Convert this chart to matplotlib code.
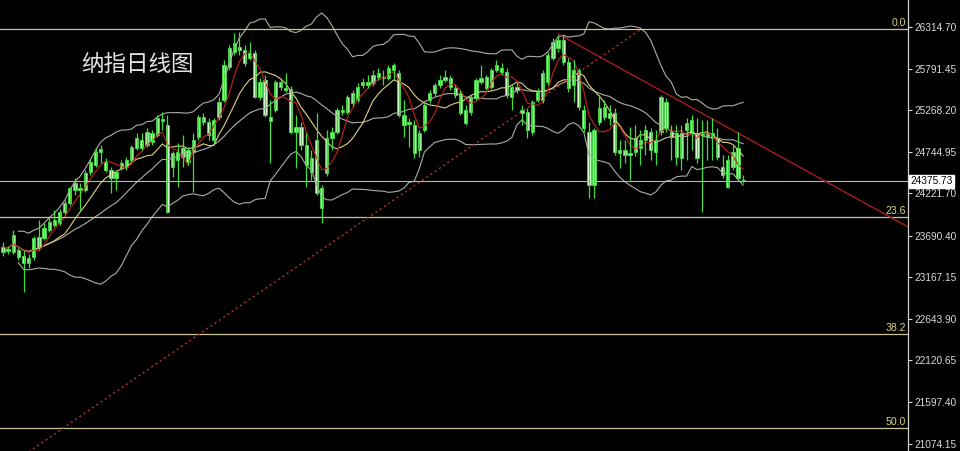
import numpy as np
import pandas as pd
import matplotlib
matplotlib.use("Agg")
import matplotlib.pyplot as plt
from matplotlib.transforms import blended_transform_factory

# daily candles (price), oldest first
opens = [23484, 23497, 23484, 23510, 23434, 23346, 23421, 23547, 23660, 23761,
         23824, 23849, 23989, 24101, 24264, 24264, 24264, 24490, 24579, 24742,
         24616, 24515, 24415, 24541, 24553, 24641, 24792, 24893, 24830, 24981,
         24956, 25132, 25082, 24553, 24641, 24679, 24767, 24742, 24931, 25119,
         25119, 24893, 25182, 25396, 25811, 26000, 26063, 26025, 25924, 25987,
         25434, 25648, 25182, 25270, 25560, 25547, 25535, 24994, 25057, 24830,
         24490, 24893, 24038, 24478, 24918, 24994, 25245, 25245, 25358, 25396,
         25585, 25585, 25610, 25686, 25686, 25673, 25774, 25736, 25082, 25119,
         25082, 24767, 25019, 25396, 25484, 25585, 25648, 25673, 25547, 25484,
         25270, 25245, 25421, 25623, 25686, 25560, 25774, 25748, 25748, 25434,
         25560, 25270, 25245, 24994, 25396, 25396, 25623, 25924, 26050, 26151,
         25874, 25585, 25774, 25270, 24994, 24327, 25119, 25182, 25233, 25233,
         24730, 24704, 24730, 24742, 24792, 24893, 24994, 24742, 24994, 25371,
         24994, 24981, 24667, 25019, 24981, 24981, 24956, 24931, 24918, 24918,
         24553, 24302, 24553, 24792, 24390]
highs = [23610, 23560, 23761, 23535, 23510, 23459, 23686, 23887, 23849, 23925,
         24013, 24025, 24138, 24302, 24415, 24352, 24515, 24667, 24792, 24830,
         24667, 24553, 24515, 24641, 24679, 24830, 24981, 24981, 25044, 25019,
         25207, 25245, 25207, 24755, 24855, 24956, 24805, 24981, 25207, 25233,
         25170, 25170, 25434, 25899, 26088, 26239, 26252, 26088, 26126, 26025,
         25673, 25711, 25396, 25648, 25673, 25736, 25572, 25207, 25119, 24981,
         24767, 25233, 24327, 25019, 25057, 25296, 25333, 25459, 25522, 25610,
         25673, 25711, 25774, 25799, 25774, 25836, 25862, 25774, 25396, 25170,
         25145, 25019, 25358, 25522, 25610, 25711, 25774, 25711, 25585, 25522,
         25333, 25459, 25673, 25836, 25711, 25799, 25899, 25862, 25799, 25585,
         25623, 25333, 25296, 25396, 25547, 25774, 26000, 26176, 26214, 26214,
         25924, 25899, 25799, 25333, 25119, 25044, 25459, 25396, 25333, 25296,
         24893, 24893, 25057, 25082, 25019, 25082, 25044, 25019, 25459, 25421,
         25082, 25082, 25082, 25170, 25207, 25170, 25145, 25145, 25170, 25044,
         24704, 24704, 24830, 24994, 24453]
lows = [23434, 23459, 23459, 23384, 22981, 23283, 23384, 23510, 23635, 23736,
        23799, 23824, 23962, 24075, 24201, 24013, 24239, 24453, 24553, 24604,
        24490, 24226, 24264, 24515, 24515, 24616, 24767, 24767, 24805, 24830,
        24931, 25019, 23975, 24428, 24302, 24553, 24579, 24239, 24893, 25082,
        24893, 24855, 25145, 25371, 25774, 25962, 25962, 25824, 25899, 25421,
        25396, 25182, 24604, 25245, 25522, 25497, 24969, 24541, 24767, 24302,
        24390, 24201, 23849, 24440, 24767, 24969, 25207, 25220, 25321, 25371,
        25547, 25547, 25572, 25648, 25585, 25648, 25648, 25182, 24931, 24805,
        24667, 24679, 24994, 25358, 25446, 25547, 25623, 25522, 25421, 25207,
        25082, 25207, 25396, 25597, 25522, 25535, 25748, 25711, 25421, 25270,
        25484, 25082, 24918, 24956, 25371, 25358, 25585, 25899, 26000, 25836,
        25497, 25371, 25270, 24994, 24164, 24164, 25082, 25145, 25082, 24704,
        24541, 24604, 24390, 24692, 24579, 24704, 24641, 24579, 24956, 24994,
        24641, 24579, 24515, 24641, 24767, 24604, 23989, 24641, 24641, 24641,
        24415, 24289, 24515, 24390, 24352]
closes = [23547, 23522, 23698, 23421, 23346, 23409, 23660, 23673, 23786, 23862,
          23887, 23989, 24101, 24289, 24352, 24289, 24478, 24616, 24742, 24780,
          24515, 24415, 24490, 24604, 24641, 24805, 24918, 24792, 24994, 24868,
          25170, 25157, 23989, 24730, 24742, 24792, 24616, 24893, 25182, 25182,
          24956, 25145, 25371, 25836, 26050, 26113, 26025, 25862, 25987, 25434,
          25623, 25207, 25132, 25623, 25623, 25522, 24994, 25057, 24830, 24579,
          24667, 24226, 24289, 24918, 24994, 25270, 25270, 25434, 25484, 25560,
          25623, 25623, 25711, 25736, 25673, 25799, 25836, 25207, 25207, 25094,
          24730, 24981, 25333, 25484, 25585, 25648, 25686, 25560, 25459, 25233,
          25107, 25421, 25648, 25673, 25547, 25774, 25836, 25799, 25459, 25560,
          25522, 25233, 25019, 25371, 25497, 25736, 25962, 26126, 26151, 25874,
          25547, 25774, 25308, 25044, 24327, 25019, 25296, 25308, 25170, 24742,
          24767, 24767, 24704, 24918, 24893, 25019, 24767, 24893, 25434, 25044,
          24931, 24679, 24981, 25107, 25145, 24667, 24981, 24981, 24981, 24679,
          24453, 24641, 24742, 24415, 24376]

last_price = 24375.73
axis_ticks = [26314.70, 25791.45, 25268.20, 24744.95, 24221.70, 23690.40,
              23167.15, 22643.90, 22120.65, 21597.40, 21074.15]
fib_high = 26290
fib_low = 16250
fib_ratios = [0.0, 23.6, 38.2, 50.0]
trend_x, trend_y = [108, 176], [26227, 23803]          # falling trend line
support_x, support_y = [5, 124], [20970, 26280]        # dotted rising line
title = "纳指日线图"

BG = "black"
LABEL_FONT = ["Liberation Sans", "DejaVu Sans"]
fig = plt.figure(figsize=(9.6, 4.51), dpi=100, facecolor=BG)
ax = fig.add_axes([0, 0, 908 / 960, 1])
ax.set_facecolor(BG)

n = len(closes)
x = np.arange(n)
o = np.array(opens, float)
c = np.array(closes, float)
h = np.maximum(np.array(highs, float), np.maximum(o, c))
l = np.minimum(np.array(lows, float), np.minimum(o, c))

# indicators: MA5, MA10, Bollinger(20, 2)
s = pd.Series(c)
ma5 = s.rolling(5, min_periods=1).mean()
ma10 = s.rolling(10, min_periods=1).mean()
mid = s.rolling(20, min_periods=4).mean()
sd = s.rolling(20, min_periods=4).std(ddof=0)
ax.plot(x, mid + 2 * sd, color="#a9b0a4", lw=0.8)
ax.plot(x, mid - 2 * sd, color="#a9b0a4", lw=0.8)
ax.plot(x, mid, color="#a9b0a4", lw=0.8)
ax.plot(x, ma10, color="#e0cf80", lw=0.8)
ax.plot(x, ma5, color="#b0201c", lw=0.9)

# fibonacci levels
blend = blended_transform_factory(ax.transAxes, ax.transData)
for r in fib_ratios:
    lvl = fib_high - r / 100 * (fib_high - fib_low)
    ax.axhline(lvl, color="#c9c49a", lw=0.9)
    ax.text(0.998, lvl + 15, f"{r:.1f}", color="#d6d27c", fontsize=7.6,
            ha="right", va="bottom", transform=blend, family=LABEL_FONT)

ax.axhline(last_price, color="#b8b8b8", lw=0.8)

# trend lines
slope = (trend_y[1] - trend_y[0]) / (trend_x[1] - trend_x[0])
ax.plot([trend_x[0], trend_x[1] + 5], [trend_y[0], trend_y[1] + 5 * slope],
        color="#a81c1c", lw=1.0)
ax.plot(support_x, support_y, color="#b83434", lw=1.0, ls=(0, (1.5, 2.2)))

# candles
up = c >= o
ax.vlines(x, l, h, color="#42dc42", lw=0.9)
body = np.maximum(np.abs(c - o), 14)
ax.bar(x[up], body[up], bottom=np.minimum(o, c)[up], width=0.64,
       color="#a6f2a0", edgecolor="#42dc42", lw=0.6)
ax.bar(x[~up], body[~up], bottom=np.minimum(o, c)[~up], width=0.64,
       color="#e2ffdc", edgecolor="#42dc42", lw=0.6)

ax.set_xlim(-0.58, 176.07)
ax.set_ylim(20981.6, 26654.3)

for sp in ["top", "left", "bottom"]:
    ax.spines[sp].set_visible(False)
ax.spines["right"].set_color("#d0d0d0")
ax.spines["right"].set_linewidth(0.9)
ax.set_xticks([])
ax.yaxis.tick_right()
ax.set_yticks(axis_ticks)
ax.set_yticklabels([f"{v:.2f}" for v in axis_ticks], family=LABEL_FONT)
ax.tick_params(axis="y", colors="#d8d8d8", labelsize=7.3, length=3, width=0.8, pad=1.5)

ax.text(1.0 + 2 / 908, last_price, f"{last_price:.2f}", color="black", fontsize=7.3,
        va="center", ha="left", transform=blend, family=LABEL_FONT,
        bbox=dict(facecolor="white", edgecolor="white", pad=1.0), clip_on=False)

fig.text(0.143, 0.856, title, color="#e4e4e4", fontsize=16.2, ha="center", va="center",
         family=["Noto Sans CJK SC", "DejaVu Sans"])

fig.savefig("out.png", dpi=100, facecolor=BG)
